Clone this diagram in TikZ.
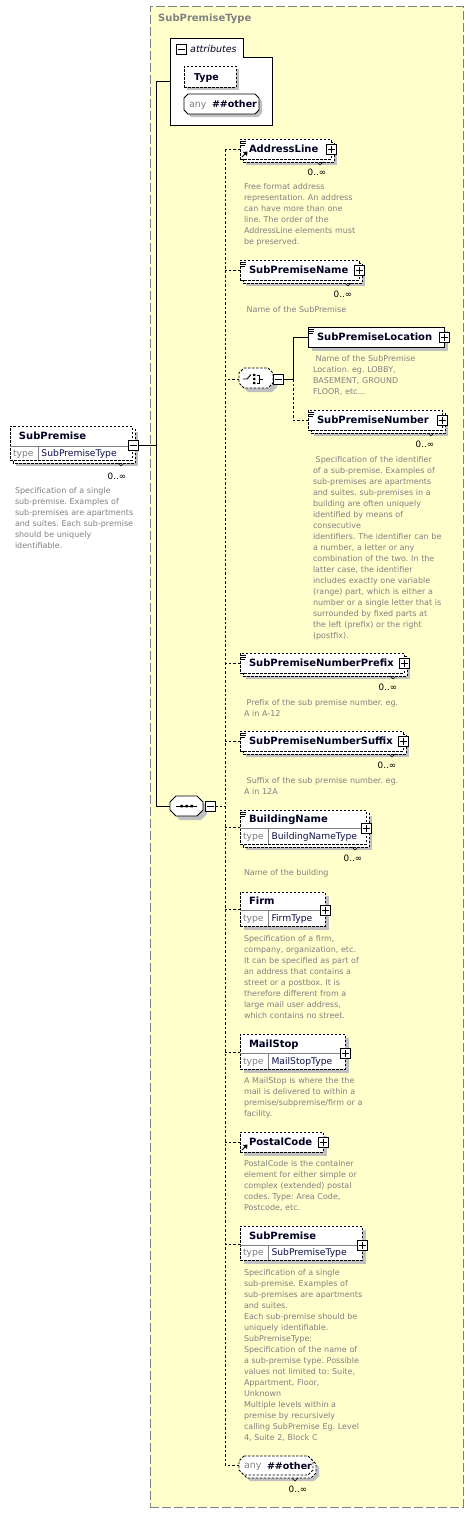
\documentclass[tikz,border=0pt]{standalone}
\usepackage{fontspec}
\setmainfont{DejaVu Sans}
\usetikzlibrary{calc}
\frenchspacing
\definecolor{yel}{RGB}{255,255,204}
\definecolor{frm}{RGB}{128,128,128}
\definecolor{shd}{RGB}{192,192,192}
\definecolor{dtxt}{RGB}{128,128,128}
\definecolor{ntxt}{RGB}{0,0,32}
\definecolor{tval}{RGB}{16,16,72}
\newcommand\descfont{\fontsize{8}{11}\selectfont}
\tikzset{
  dsh/.style={draw=black, line width=.8pt, dash pattern=on 2.5pt off 1.5pt},
  sld/.style={draw=black, line width=.8pt},
  cl/.style={draw=black, line width=.9pt},
  dl/.style={draw=black, line width=.9pt, dash pattern=on 2.5pt off 2pt},
  nm/.style={inner sep=0, outer sep=0, text=ntxt, font=\bfseries\fontsize{10}{12}\selectfont, text height=7.3pt, text depth=0pt},
  tlab/.style={inner sep=0, outer sep=0, text=frm, font=\fontsize{9.2}{11}\selectfont, text height=6pt, text depth=0pt},
  tv/.style={inner sep=0, outer sep=0, text=tval, font=\fontsize{9.2}{11}\selectfont, text height=6pt, text depth=0pt},
  occ/.style={inner sep=0, outer sep=0, text=black, font=\fontsize{8.8}{10}\selectfont, text height=6pt, text depth=0pt},
  desc/.style={anchor=base west, inner sep=0, outer sep=0, align=left, text=dtxt, font=\descfont},
  pm/.style={draw=black, fill=white, line width=1pt, minimum size=10pt, inner sep=0, outer sep=0},
  inv/.style={inner sep=0, outer sep=0, anchor=north west},
  container/.style={draw=frm, line width=1pt, dash pattern=on 9pt off 3pt, fill=yel, inner sep=0, outer sep=0, anchor=north west},
  ttl/.style={inner sep=0, text=frm, font=\bfseries\fontsize{10}{12}\selectfont, anchor=west},
  shdf/.style={fill=shd, draw=none}
}
% shadow + back box for repeated elements
\newcommand\ShRep[4]{%
  \fill[shd] ({#1+6},{#2+6}) rectangle ({#1+#3+6},{#2+#4+6});
  \draw[dsh,fill=white] ({#1+3},{#2+3}) rectangle ({#1+#3+3},{#2+#4+3});
  \draw[line width=.6pt] ({#1+#3-14},{#2+#4+3}) -- ({#1+#3-11},{#2+#4+6}) -- ({#1+#3-8},{#2+#4+3});}
\newcommand\ShOne[4]{\fill[shd] ({#1+4},{#2+4}) rectangle ({#1+#3+4},{#2+#4+4});}
\newcommand\Front[6]{\node[#6, fill=white, inv, minimum width=#4pt, minimum height=#5pt] (#1) at (#2,#3) {};}
\newcommand\SEl[7]{%
  \Front{#1}{#2}{#3}{#4}{#5}{#6}
  \node[nm, anchor=west] (#1-n) at ({#2+9},{#3+#5/2}) {#7};}
\newcommand\TEl[9]{%
  \Front{#1}{#2}{#3}{#4}{#5}{#7}
  \draw[frm, line width=.8pt] (#2,{#3+#6}) -- ({#2+#4},{#3+#6});
  \draw[frm, line width=.8pt] ({#2+28},{#3+#6}) -- ({#2+28},{#3+#5});
  \coordinate (#1-c) at (#2,{#3+#6-1});
  \node[nm, anchor=west] (#1-n) at ({#2+9},{#3+#6/2}) {#8};
  \node[tlab, anchor=west] (#1-tl) at ({#2+3},{#3+(#5+#6)/2}) {type};
  \node[tv, anchor=west] (#1-tv) at ({#2+31.5},{#3+(#5+#6)/2}) {#9};}
\newcommand\PlusB[3]{\node[pm] (#1) at (#2,#3) {};
  \draw[line width=1pt] ({#2-3.5},#3) -- ({#2+3.5},#3) (#2,{#3-3.5}) -- (#2,{#3+3.5});}
\newcommand\MinusB[3]{\node[pm] (#1) at (#2,#3) {};
  \draw[line width=1pt] ({#2-3.5},#3) -- ({#2+3.5},#3);}
\newcommand\Lines[2]{\draw[line width=.6pt] ({#1+1},{#2+2}) -- ({#1+6},{#2+2}) ({#1+1},{#2+4.3}) -- ({#1+6},{#2+4.3}) ({#1+1},{#2+6.6}) -- ({#1+5},{#2+6.6});}
\newcommand\RefArr[2]{\draw[line width=.8pt] ({#1+2},{#2-2}) -- ({#1+5.5},{#2-5.5});
  \fill ({#1+7.5},{#2-7.5}) -- ({#1+3},{#2-7}) -- ({#1+7},{#2-3}) -- cycle;}
\newcommand\Occ[3]{\node[occ] (#1) at (#2,#3) {0..∞};}
\newcommand\Desc[5][150]{\node[desc, text width=#1pt] (#2) at (#3,{#4+2.7}) {#5};}
\newcommand\Oct[6]{\draw[#1] ({#2+#6},#3) -- ({#2+#4-#6},#3) -- ({#2+#4},{#3+#6}) -- ({#2+#4},{#3+#5-#6}) -- ({#2+#4-#6},{#3+#5}) -- ({#2+#6},{#3+#5}) -- (#2,{#3+#5-#6}) -- (#2,{#3+#6}) -- cycle;}

\begin{document}
\begin{tikzpicture}[x=1pt,y=-1pt]
\useasboundingbox (0,0) rectangle (473,1513);
% complex type container
\node[container, minimum width=313pt, minimum height=1501pt] (ctype) at (150,6) {};
\node[ttl] (ctitle) at (158,19) {SubPremiseType};

% attributes group
\draw[line width=1pt, fill=white] (170,38) -- (243,38) -- (243,57) -- (272,57) -- (272,125) -- (170,125) -- cycle;
\node[inv, minimum width=102pt, minimum height=87pt] (attrs) at (170,38) {};
\MinusB{attm}{181.5}{49.5}
\node[inner sep=0, anchor=west, text=ntxt, font=\itshape\fontsize{9.5}{11}\selectfont] (attl) at (190,48.5) {attributes};
\fill[shd] (187,69) rectangle (239,90);
\node[dsh, fill=white, inv, minimum width=52pt, minimum height=21pt] (atype) at (184,66) {};
\node[nm, anchor=west, font=\bfseries\fontsize{9.5}{11}\selectfont, text height=7pt] (atype-n) at (194,76.5) {Type};
\Oct{shdf}{187}{97}{75}{20}{4}
\Oct{sld,fill=white}{184}{94}{75}{20}{4}
\node[inv, minimum width=75pt, minimum height=20pt] (aany) at (184,94) {};
\node[tlab, anchor=west, font=\fontsize{9.5}{11}\selectfont] (aany-a) at (189,104) {any};
\node[nm, anchor=west, font=\bfseries\fontsize{9.5}{11}\selectfont, text height=7pt] (aany-o) at (212,104) {\#\#other};

% root element
\ShRep{10}{426}{122}{34}
\TEl{root}{10}{426}{122}{34}{20}{dsh}{SubPremise}{SubPremiseType}
\MinusB{rootm}{133}{445}
\Occ{rooto}{117}{476}
\Desc{rootd}{15}{491}{Specification of a single\\sub-premise. Examples of\\sub-premises are apartments\\and suites. Each sub-premise\\should be uniquely\\identifiable.}

% sequence compositor
\Oct{shdf}{174}{800}{33}{20}{6}
\Oct{sld,fill=white}{170}{796}{33}{20}{6}
\node[inv, minimum width=33pt, minimum height=20pt] (seq) at (170,796) {};
\draw[line width=1pt] (176,806) -- (197,806);
\fill (180.3,804.8) rectangle (182.8,807.3) (185.3,804.8) rectangle (187.8,807.3) (190.3,804.8) rectangle (192.8,807.3);
\MinusB{seqm}{210}{806}

% AddressLine
\ShRep{240}{139}{91}{20}
\SEl{al}{240}{139}{91}{20}{dsh}{AddressLine}
\Lines{240}{139}
\RefArr{240}{159}
\PlusB{alp}{331}{149}
\Occ{alo}{317}{172}
\Desc{ald}{244}{187}{Free format address\\representation. An address\\can have more than one\\line. The order of the\\AddressLine elements must\\be preserved.}

% SubPremiseName
\ShRep{240}{260}{119}{20}
\SEl{spn}{240}{260}{119}{20}{dsh}{SubPremiseName}
\Lines{240}{260}
\PlusB{spnp}{359}{270}
\Occ{spno}{343}{294}
\Desc{spnd}{244}{310}{\hspace*{2.7pt}Name of the SubPremise}

% choice compositor
\Oct{shdf}{243}{372}{34}{20}{5}
\Oct{dsh,fill=white}{239}{368}{34}{20}{5}
\node[inv, minimum width=34pt, minimum height=20pt] (ch) at (239,369) {};
\draw[line width=.9pt] (243,379) -- (247,379) -- (251,374.5);
\fill (253,373.8) rectangle (255.4,376.2) (253,377.8) rectangle (255.4,380.2) (253,381.8) rectangle (255.4,384.2);
\draw[line width=.9pt] (256.5,375) -- (259.5,375) -- (259.5,383) -- (256.5,383) (259.5,379) -- (263,379);
\MinusB{chm}{278.5}{379}

% SubPremiseLocation
\ShOne{308}{327}{136}{20}
\SEl{spl}{308}{327}{136}{20}{sld}{SubPremiseLocation}
\Lines{308}{327}
\PlusB{splp}{444}{337}
\Desc{spld}{313}{359}{\hspace*{2.7pt}Name of the SubPremise\\Location. eg. LOBBY,\\BASEMENT, GROUND\\FLOOR, etc...}

% SubPremiseNumber
\ShRep{308}{410}{134}{20}
\SEl{spnum}{308}{410}{134}{20}{dsh}{SubPremiseNumber}
\Lines{308}{410}
\PlusB{spnump}{442}{420}
\Occ{spnumo}{425}{444}
\Desc{spnumd}{313}{460}{\hspace*{2.7pt}Specification of the identifier\\of a sub-premise. Examples of\\sub-premises are apartments\\and suites. sub-premises in a\\building are often uniquely\\identified by means of\\consecutive\\identifiers. The identifier can be\\a number, a letter or any\\combination of the two. In the\\latter case, the identifier\\includes exactly one variable\\(range) part, which is either a\\number or a single letter that is\\surrounded by fixed parts at\\the left (prefix) or the right\\(postfix).}

% SubPremiseNumberPrefix
\ShRep{240}{653}{164}{20}
\SEl{pre}{240}{653}{164}{20}{dsh}{SubPremiseNumberPrefix}
\Lines{240}{653}
\PlusB{prep}{404}{663}
\Occ{preo}{388}{687}
\Desc[175]{pred}{244}{703}{\hspace*{2.7pt}Prefix of the sub premise number. eg.\\A in A-12}

% SubPremiseNumberSuffix
\ShRep{240}{731}{163}{20}
\SEl{suf}{240}{731}{163}{20}{dsh}{SubPremiseNumberSuffix}
\Lines{240}{731}
\PlusB{sufp}{403}{741}
\Occ{sufo}{387}{765}
\Desc[175]{sufd}{244}{781}{\hspace*{2.7pt}Suffix of the sub premise number. eg.\\A in 12A}

% BuildingName
\ShRep{240}{810}{126}{34}
\TEl{bn}{240}{810}{126}{34}{18}{dsh}{BuildingName}{BuildingNameType}
\Lines{240}{810}
\PlusB{bnp}{366}{828}
\Occ{bno}{353}{858}
\Desc{bnd}{244}{873}{Name of the building}

% Firm
\ShOne{240}{892}{85}{34}
\TEl{firm}{240}{892}{85}{34}{18}{dsh}{Firm}{FirmType}
\PlusB{firmp}{325}{910}
\Desc{firmd}{244}{939}{Specification of a firm,\\company, organization, etc.\\It can be specified as part of\\an address that contains a\\street or a postbox. It is\\therefore different from a\\large mail user address,\\which contains no street.}

% MailStop
\ShOne{240}{1034}{105}{35}
\TEl{ms}{240}{1034}{105}{35}{19}{dsh}{MailStop}{MailStopType}
\PlusB{msp}{345}{1053}
\Desc{msd}{244}{1081}{A MailStop is where the the\\mail is delivered to within a\\premise/subpremise/firm or a\\facility.}

% PostalCode
\ShOne{240}{1132}{83}{20}
\SEl{pc}{240}{1132}{83}{20}{dsh}{PostalCode}
\RefArr{240}{1152}
\PlusB{pcp}{323}{1142}
\Desc{pcd}{244}{1164}{PostalCode is the container\\element for either simple or\\complex (extended) postal\\codes. Type: Area Code,\\Postcode, etc.}

% SubPremise (recursive)
\ShOne{240}{1226}{122}{34}
\TEl{sp}{240}{1226}{122}{34}{19}{dsh}{SubPremise}{SubPremiseType}
\PlusB{spp}{362}{1245}
\Desc{spd}{244}{1273}{Specification of a single\\sub-premise. Examples of\\sub-premises are apartments\\and suites.\\Each sub-premise should be\\uniquely identifiable.\\SubPremiseType:\\Specification of the name of\\a sub-premise type. Possible\\values not limited to: Suite,\\Appartment, Floor,\\Unknown\\Multiple levels within a\\premise by recursively\\calling SubPremise Eg. Level\\4, Suite 2, Block C}

% any ##other
\Oct{shdf}{245}{1462}{74}{19}{5}
\Oct{dsh,fill=white}{242}{1459}{74}{19}{5}
\draw[line width=.6pt] (292,1478) -- (295,1481) -- (298,1478);
\Oct{dsh,fill=white}{239}{1456}{74}{19}{5}
\node[inv, minimum width=74pt, minimum height=19pt] (anyel) at (239,1456) {};
\node[tlab, anchor=west, font=\fontsize{9.5}{11}\selectfont] (anyel-a) at (244,1465.5) {any};
\node[nm, anchor=west, font=\bfseries\fontsize{9.5}{11}\selectfont, text height=7pt] (anyel-o) at (267,1465.5) {\#\#other};
\Occ{anyo}{298}{1489}

% connectors
\coordinate (vt) at (156,0);
\coordinate (dt) at (225,0);
\coordinate (cj) at (293,379);
\draw[cl] (rootm.east) -- (rootm.east -| vt);
\draw[cl] (attrs.west) -- (attrs.west -| vt) -- (seq.west -| vt) -- (seq.west);
\draw[dl] (seqm.east) -- (seqm.east -| dt);
\draw[dl] (al.west -| dt) -- (anyel.west -| dt);
\draw[dl] (al.west) -- (al.west -| dt);
\draw[dl] (spn.west) -- (spn.west -| dt);
\draw[dl] (ch.west) -- (ch.west -| dt);
\draw[dl] (pre.west) -- (pre.west -| dt);
\draw[dl] (suf.west) -- (suf.west -| dt);
\draw[dl] (bn-c) -- (bn-c -| dt);
\draw[dl] (firm-c) -- (firm-c -| dt);
\draw[dl] (ms-c) -- (ms-c -| dt);
\draw[dl] (pc.west) -- (pc.west -| dt);
\draw[dl] (sp-c) -- (sp-c -| dt);
\draw[dl] (anyel.west) -- (anyel.west -| dt);
\draw[cl] (chm.east) -- (cj) -- (cj |- spl.west) -- (spl.west);
\draw[dl] (cj) -- (cj |- spnum.west) -- (spnum.west);
\end{tikzpicture}
\end{document}
